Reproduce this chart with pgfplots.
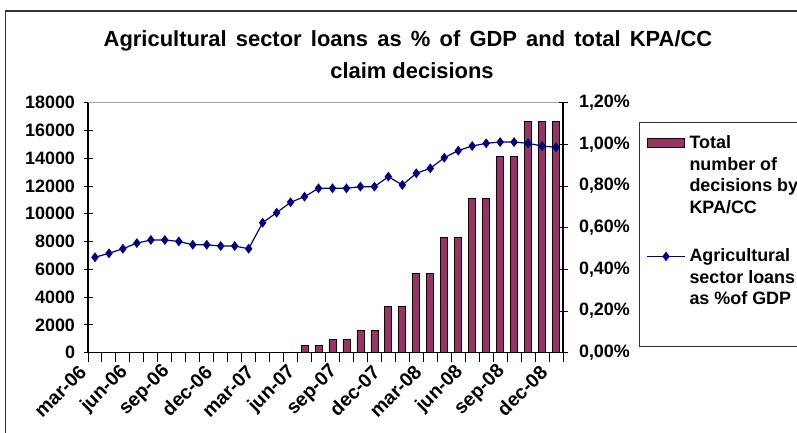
\documentclass[border=0pt]{standalone}
\usepackage{pgfplots}
\pgfplotsset{compat=1.18}
\usepackage{fontspec}
\setmainfont{Liberation Sans}
\definecolor{barcol}{HTML}{993366}
\definecolor{linecol}{HTML}{000080}
\newcommand{\tickfont}{\bfseries\fontsize{18}{21.5}\selectfont}
\begin{document}
\begin{tikzpicture}[x=1bp,y=1bp]
\useasboundingbox (0,0) rectangle (797,432);
\fill[white] (0,0) rectangle (797,432);
\draw[black!80, line width=1.2bp] (5.5,-2) -- (5.5,421) -- (800,421);
\node[anchor=base, font=\bfseries\fontsize{22}{25}\selectfont] at (408,385.3) {\spaceskip=9.2bp\relax Agricultural sector loans as \% of GDP and total KPA/CC};
\node[anchor=base, font=\bfseries\fontsize{22}{25}\selectfont] at (412,354) {claim decisions};

\begin{axis}[
  scale only axis, width=475bp, height=250bp, at={(88bp,79.3bp)}, anchor=south west,
  xmin=-0.5, xmax=33.5, ymin=0, ymax=18000,
  axis x line*=bottom, axis y line*=left,
  axis line style={black, line width=1.1bp, -},
  clip=false, scaled y ticks=false,
  xtick={0,3,...,33},
  xticklabels={mar-06,jun-06,sep-06,dec-06,mar-07,jun-07,sep-07,dec-07,mar-08,jun-08,sep-08,dec-08},
  minor xtick={-0.5,0.5,...,33.5},
  every major x tick/.append style={draw=none},
  ytick={0,2000,...,18000},
  yticklabels={0,2000,4000,6000,8000,10000,12000,14000,16000,18000},
  tick align=center, major tick length=9bp, minor tick length=9bp,
  tick style={black, line width=1bp},
  ticklabel style={font=\tickfont},
  yticklabel style={xshift=-5bp},
  xticklabel style={font=\bfseries\fontsize{19.5}{22}\selectfont, rotate=45, anchor=east, inner sep=0pt, xshift=-13.5bp, yshift=3.6bp},
  ybar, bar width=7bp,
]
\addplot[fill=barcol, draw=black, line width=0.8bp] coordinates {
(15,530) (16,530) (17,960) (18,960) (19,1585) (20,1585)
(21,3315) (22,3315) (23,5715) (24,5715) (25,8310) (26,8310)
(27,11120) (28,11120) (29,14120) (30,14120) (31,16640) (32,16640) (33,16640)};
\draw[gray!70, line width=1.2bp] (rel axis cs:0,1) -- (rel axis cs:1,1);
\end{axis}

\begin{axis}[
  scale only axis, width=475bp, height=250bp, at={(88bp,79.3bp)}, anchor=south west,
  xmin=-0.5, xmax=33.5, ymin=0, ymax=1.2,
  axis y line*=right, axis x line=none,
  axis line style={black, line width=1.1bp, -},
  clip=false,
  ytick={0,0.2,0.4,0.6,0.8,1.0,1.2},
  yticklabels={{0,00\%},{0,20\%},{0,40\%},{0,60\%},{0,80\%},{1,00\%},{1,20\%}},
  tick align=center, major tick length=9bp,
  tick style={black, line width=1bp},
  ticklabel style={font=\tickfont},
  yticklabel style={xshift=8bp},
  legend style={at={(axis description cs:1,1)}, anchor=north west, xshift=76bp, yshift=-19.7bp,
    draw=black!80, line width=1bp, fill=white, inner xsep=7bp, inner ysep=13bp,
    font=\tickfont, row sep=34bp,
    nodes={inner sep=0pt, align=left, anchor=base west},
    /tikz/every odd column/.append style={column sep=4bp}},
]
\addlegendimage{legend image code/.code={\draw[fill=barcol, draw=black, line width=0.8bp] (0bp,65.5bp) rectangle (37bp,74.5bp);}}
\addlegendentry{Total\\number of\\decisions by\\KPA/CC}
\addplot[linecol, line width=1.2bp, mark=diamond*, mark size=4bp,
  legend image code/.code={\draw[linecol, line width=1bp, mark=diamond*, mark size=4bp, mark repeat=2, mark phase=2] plot coordinates {(0bp,75.5bp) (19bp,75.5bp) (38bp,75.5bp)};}]
coordinates {
(0,0.458) (1,0.477) (2,0.499) (3,0.526) (4,0.541) (5,0.541) (6,0.534)
(7,0.518) (8,0.518) (9,0.512) (10,0.512) (11,0.499) (12,0.624) (13,0.672)
(14,0.722) (15,0.749) (16,0.789) (17,0.789) (18,0.789) (19,0.797) (20,0.797)
(21,0.845) (22,0.805) (23,0.861) (24,0.885) (25,0.936) (26,0.970) (27,0.992)
(28,1.005) (29,1.011) (30,1.011) (31,1.005) (32,0.992) (33,0.986)};
\addlegendentry{Agricultural\\sector loans\\as \%of GDP\\[6bp]\mbox{}}
\end{axis}
\end{tikzpicture}
\end{document}
